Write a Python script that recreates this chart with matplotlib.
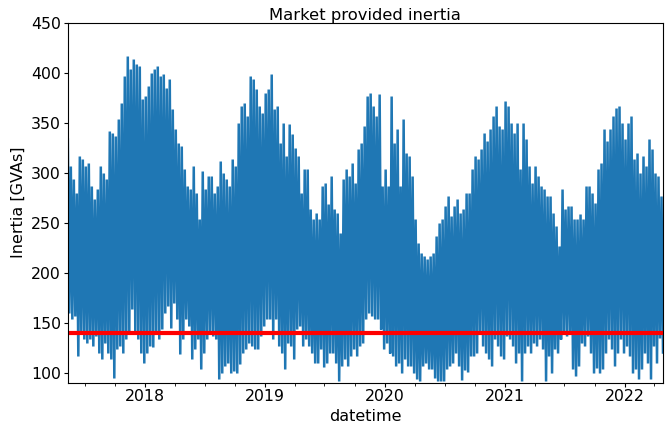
import numpy as np
import pandas as pd
import matplotlib
matplotlib.use('Agg')
import matplotlib.pyplot as plt
import matplotlib.dates as mdates

# envelope of the inertia series, every 9 days
start = '2017-05-10'
end = '2022-04-23'

inertia_high = [
    333, 306, 293, 279, 316, 313, 306, 309, 286, 273, 283, 306, 299, 293, 341, 339, 336,
    353, 369, 396, 416, 403, 413, 408, 406, 373, 376, 386, 399, 403, 406, 396, 398, 384,
    393, 363, 343, 329, 326, 303, 286, 283, 306, 279, 253, 301, 283, 296, 296, 279, 286,
    311, 299, 293, 286, 313, 306, 349, 366, 369, 356, 396, 393, 383, 366, 359, 379, 383,
    398, 363, 366, 329, 349, 316, 348, 338, 324, 316, 279, 303, 303, 263, 253, 259, 253,
    286, 289, 268, 296, 263, 259, 239, 293, 303, 296, 309, 289, 323, 329, 346, 376,
    379, 366, 356, 378, 286, 303, 286, 376, 329, 343, 286, 353, 319, 316, 296, 253, 229,
    219, 216, 213, 216, 219, 236, 249, 253, 266, 276, 256, 266, 273, 259, 263, 279,
    279, 303, 316, 313, 323, 339, 331, 343, 356, 366, 346, 343, 371, 366, 349, 339, 349,
    303, 349, 333, 306, 289, 306, 296, 286, 283, 276, 276, 259, 246, 226, 283, 263,
    266, 266, 253, 253, 258, 253, 286, 286, 279, 269, 303, 309, 343, 331, 343, 356, 364,
    366, 349, 333, 349, 356, 313, 319, 299, 316, 306, 333, 323, 299, 296, 276,
]
inertia_low = [
    159, 153, 156, 116, 139, 133, 129, 133, 126, 136, 119, 113, 129, 119, 113, 94, 123,
    126, 119, 133, 139, 163, 139, 133, 119, 109, 119, 126, 125, 139, 133, 143, 159, 166,
    144, 169, 153, 118, 133, 153, 146, 113, 123, 133, 103, 119, 133, 139, 136, 133, 93,
    99, 106, 109, 99, 101, 99, 108, 119, 123, 129, 126, 123, 123, 136, 146, 153, 153,
    133, 153, 126, 119, 103, 129, 126, 113, 143, 146, 126, 133, 126, 119, 109, 109, 123,
    105, 109, 119, 119, 109, 91, 106, 113, 106, 116, 123, 116, 126, 129, 153, 159,
    156, 153, 153, 143, 123, 129, 119, 116, 106, 109, 99, 113, 106, 106, 99, 93, 91,
    106, 109, 103, 103, 94, 91, 91, 91, 103, 106, 109, 119, 106, 92, 102, 100,
    116, 116, 119, 139, 126, 119, 113, 106, 133, 126, 116, 113, 136, 133, 126, 109, 119,
    91, 119, 126, 119, 129, 126, 133, 123, 91, 116, 99, 123, 119, 133, 139, 136,
    139, 103, 96, 106, 129, 126, 136, 119, 99, 104, 99, 103, 119, 133, 123, 106, 119,
    133, 119, 126, 116, 99, 103, 93, 103, 119, 109, 93, 126, 109, 134, 120,
]
threshold = 140

dates = pd.date_range(start, end, periods=len(inertia_high))
step = dates[1] - dates[0]
times = []
values = []
for d, hi, lo in zip(dates, inertia_high, inertia_low):
    times += [d, d + step / 2]
    values += [hi, lo]
series = pd.Series(values, index=pd.DatetimeIndex(times))

fig, ax = plt.subplots(figsize=(6.65, 4.25), dpi=100)
fig.subplots_adjust(left=0.102, right=0.997, top=0.947, bottom=0.1)

ax.plot(series.index, series.values, color='#1f77b4', lw=1.8,
        solid_joinstyle='miter')
ax.axhline(threshold, color='red', lw=3)

ax.set_xlim(series.index[0], series.index[-1])
ax.set_ylim(90, 450)
ax.set_yticks(np.arange(100, 451, 50))
ax.xaxis.set_major_locator(mdates.YearLocator())
ax.xaxis.set_major_formatter(mdates.DateFormatter('%Y'))
ax.xaxis.set_minor_locator(mdates.MonthLocator(bymonth=[1, 4, 7, 10]))
ax.tick_params(which='major', labelsize=11.3, length=2.8, pad=2.2)
ax.tick_params(which='minor', length=1.8)

ax.set_title('Market provided inertia', fontsize=11.8, pad=0.5)
ax.set_xlabel('datetime', fontsize=11.5, labelpad=3.5)
ax.set_ylabel('Inertia [GVAs]', fontsize=11.5, labelpad=3.5)

fig.savefig('out.png', dpi=100)
